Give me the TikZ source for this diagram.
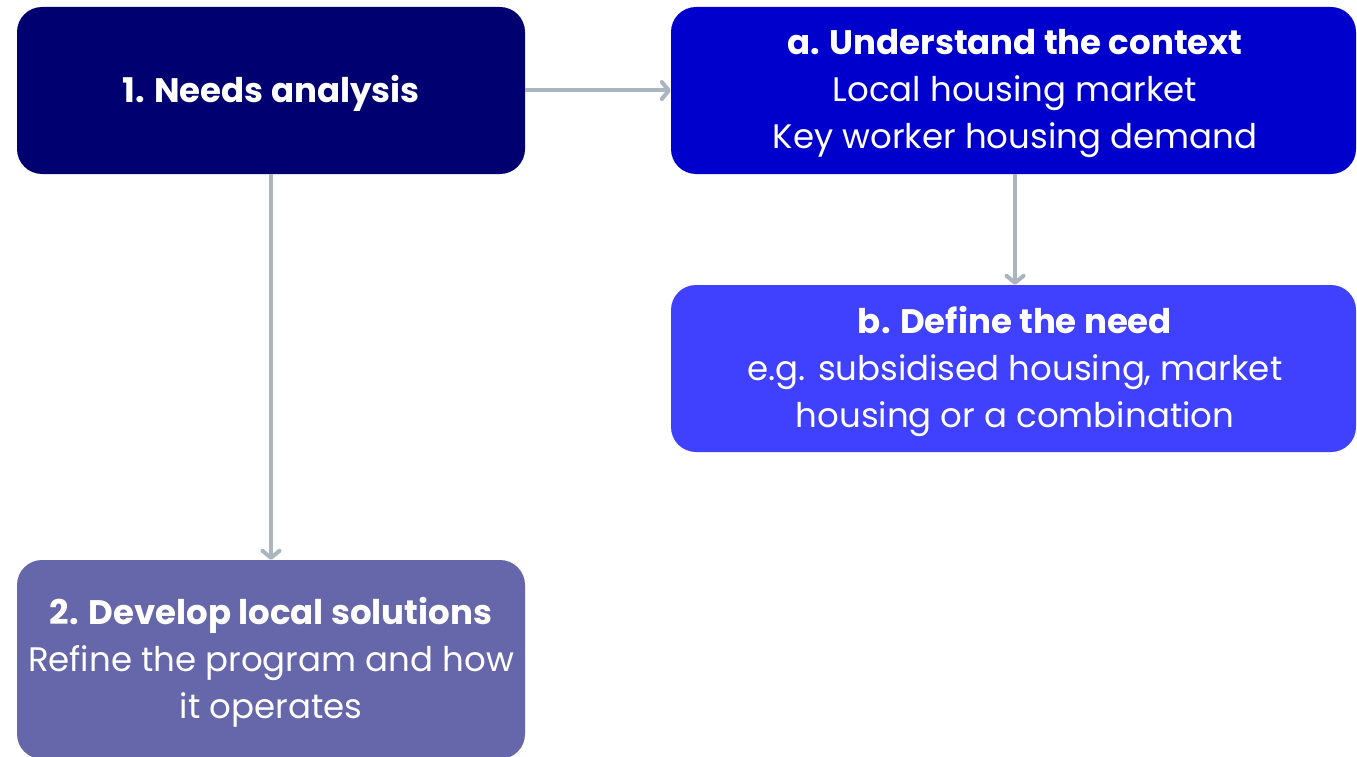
\documentclass[tikz,border=0pt]{standalone}
\usepackage{fontspec}
\setmainfont{Poppins}
\usetikzlibrary{arrows.meta}
\definecolor{cnavy}{HTML}{000070}
\definecolor{cblue}{HTML}{0000CC}
\definecolor{clight}{HTML}{4040FF}
\definecolor{cpurple}{HTML}{6666AA}
\definecolor{carrow}{HTML}{AAB5BD}
\tikzset{
  box/.style={rounded corners=25pt, inner sep=0pt},
  txt/.style={text=white, align=center, inner sep=0pt,
    font=\fontsize{34}{47}\selectfont},
  arr/.style={draw=carrow, line width=4pt,
    -{Straight Barb[length=7pt, width=17pt, line cap=round, line join=round]}}
}
\begin{document}
\begin{tikzpicture}[x=1pt,y=-1pt]
\useasboundingbox (0,0) rectangle (1357,757);
\fill[white] (0,0) rectangle (1357,757);
\node[box, fill=cnavy, minimum width=508pt, minimum height=167pt] (n1) at (271,90.5) {};
\node[box, fill=cblue, minimum width=685pt, minimum height=167pt] (na) at (1013.5,90.5) {};
\node[box, fill=clight, minimum width=685pt, minimum height=167pt] (nb) at (1013.5,368.5) {};
\node[box, fill=cpurple, minimum width=508pt, minimum height=199pt] (n2) at (271,659.5) {};
\node[txt] (t1) at ([yshift=-3pt]n1.center) {\textbf{1. Needs analysis}};
\node[txt] (ta) at ([xshift=1.5pt,yshift=-3pt]na.center) {\textbf{a. Understand the context}\\Local housing market\\Key worker housing demand};
\node[txt] (tb) at ([xshift=1.5pt,yshift=-3pt]nb.center) {\textbf{b. Define the need}\\e.g. subsidised housing, market\\housing or a combination};
\node[txt] (t2) at ([yshift=-3pt]n2.center) {\textbf{2. Develop local solutions}\\Refine the program and how\\it operates};
\draw[arr] (n1.east) -- (na.west);
\draw[arr] (n1.south) -- (n2.north);
\draw[arr] ([xshift=1.5pt]na.south) -- ([xshift=1.5pt]nb.north);
\end{tikzpicture}
\end{document}
